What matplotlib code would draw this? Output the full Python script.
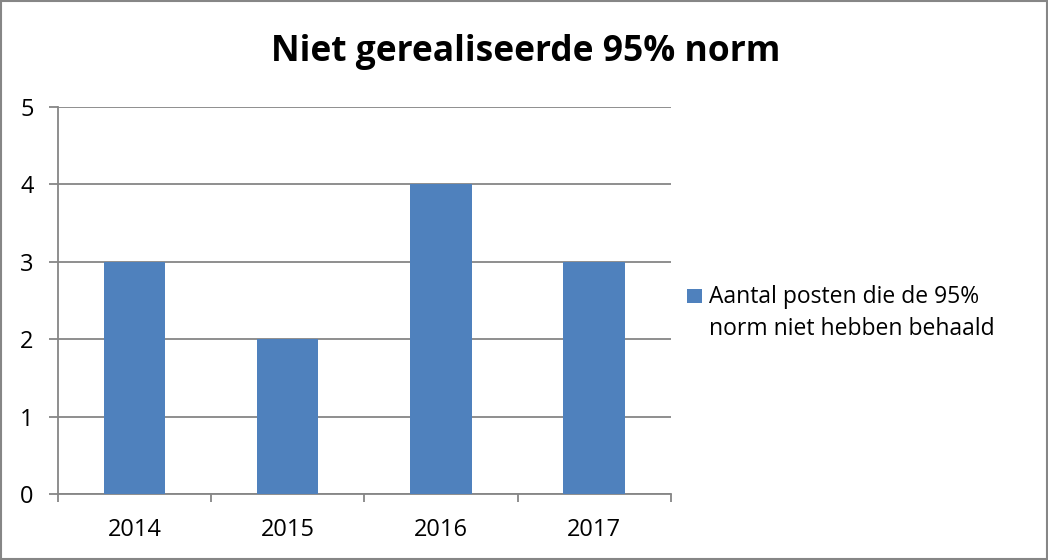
import matplotlib.pyplot as plt
from matplotlib.patches import Rectangle

# Data
years = ['2014', '2015', '2016', '2017']
counts = [3, 2, 4, 3]
series_label = 'Aantal posten die de 95%\nnorm niet hebben behaald'
title = 'Niet gerealiseerde 95% norm'

plt.rcParams['font.family'] = ['Open Sans', 'DejaVu Sans']

bar_color = '#4F81BD'
line_color = '#868686'

fig = plt.figure(figsize=(10.48, 5.6), dpi=100)
ax = fig.add_axes([0.0553, 0.1179, 0.5847, 0.6911])

x = list(range(len(years)))
ax.bar(x, counts, width=0.4, color=bar_color, zorder=3)

ax.set_xlim(-0.5, len(years) - 0.5)
ax.set_ylim(0, 5)
ax.set_yticks(range(0, 6))
ax.set_xticks(x)
ax.set_xticklabels(years)
ax.set_xticks([i - 0.5 for i in range(len(years) + 1)], minor=True)

ax.grid(axis='y', color=line_color, linewidth=1.3, zorder=0)
for side in ['top', 'right']:
    ax.spines[side].set_visible(False)
for side in ['left', 'bottom']:
    ax.spines[side].set_color(line_color)
    ax.spines[side].set_linewidth(1.3)

ax.tick_params(axis='y', length=6.5, width=1.3, color=line_color, labelsize=17, pad=11)
ax.tick_params(axis='x', which='major', length=0, labelsize=17, pad=17)
ax.tick_params(axis='x', which='minor', length=6, width=1.3, color=line_color)

fig.text(0.502, 0.907, title, ha='center', va='center', fontsize=25.5, fontweight='bold')

# legend (handle lines up with the first text line, as in the original)
fig.patches.append(Rectangle((0.6555, 0.459), 0.0143, 0.025, transform=fig.transFigure,
                             facecolor=bar_color, edgecolor='none'))
fig.text(0.6765, 0.441, series_label, ha='left', va='center', fontsize=16.5,
         linespacing=1.45)

# figure border
fig.patches.append(Rectangle((0.001, 0.002), 0.998, 0.996, transform=fig.transFigure,
                             fill=False, edgecolor=line_color, linewidth=1.5))

fig.savefig('out.png', dpi=100)
